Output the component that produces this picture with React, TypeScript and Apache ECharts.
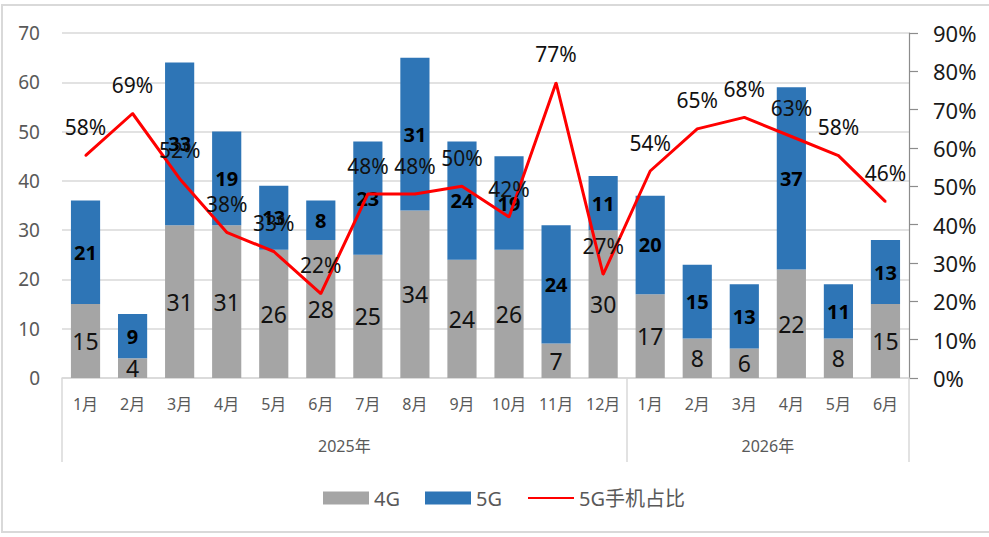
import React, { useEffect, useRef } from "react";
import * as echarts from "echarts";

const months = ["1月", "2月", "3月", "4月", "5月", "6月", "7月", "8月", "9月", "10月", "11月", "12月", "1月", "2月", "3月", "4月", "5月", "6月"];
const years = ["2025年", "2026年"];
const yearCenters = [6, 15];
const yearBounds = [0, 12, 18];
const values4G = [15, 4, 31, 31, 26, 28, 25, 34, 24, 26, 7, 30, 17, 8, 6, 22, 8, 15];
const values5G = [21, 9, 33, 19, 13, 8, 23, 31, 24, 19, 24, 11, 20, 15, 13, 37, 11, 13];
const share5G = [58, 69, 52, 38, 33, 22, 48, 48, 50, 42, 77, 27, 54, 65, 68, 63, 58, 46];

const FONT = "'Noto Sans', 'Noto Sans CJK SC', sans-serif";

export default function App() {
  const ref = useRef<HTMLDivElement>(null);
  useEffect(() => {
    if (!ref.current) return;
    const chart = echarts.init(ref.current, null, { renderer: "svg" });
    chart.setOption({
      animation: false,
      textStyle: { fontFamily: FONT },
      graphic: [
        {
          type: "rect",
          shape: { x: 2, y: 5, width: 995, height: 527 },
          style: { fill: "none", stroke: "#d9d9d9", lineWidth: 2 },
          z: -1,
        },
      ],
      grid: { left: 62, right: 80, top: 33, bottom: 159 },
      legend: {
        left: 318,
        top: 483,
        itemWidth: 46,
        itemHeight: 13,
        itemGap: 25,
        textStyle: { fontSize: 20, color: "#595959", fontFamily: FONT },
        data: [
          { name: "4G", icon: "rect" },
          { name: "5G", icon: "rect" },
          { name: "5G手机占比", itemStyle: { opacity: 0 } },
        ],
      },
      xAxis: [
        {
          type: "category",
          data: months,
          axisTick: { show: false },
          axisLine: { lineStyle: { color: "#d9d9d9", width: 1.5 } },
          axisLabel: { color: "#595959", fontSize: 16, margin: 18, interval: 0, fontFamily: FONT },
        },
        {
          type: "value",
          position: "bottom",
          min: 0,
          max: 18,
          interval: 3,
          axisLine: { show: false },
          splitLine: { show: false },
          axisTick: {
            show: true,
            length: 84,
            customValues: yearBounds,
            lineStyle: { color: "#d9d9d9", width: 1.5 },
          },
          axisLabel: {
            show: true,
            customValues: yearCenters,
            margin: 60,
            color: "#595959",
            fontSize: 16,
            fontFamily: FONT,
            formatter: (v: number) => {
              const i = yearCenters.indexOf(v);
              return i >= 0 ? years[i] : "";
            },
          },
        },
      ],
      yAxis: [
        {
          type: "value",
          min: 0,
          max: 70,
          interval: 10,
          axisLine: { show: false },
          axisTick: { show: false },
          axisLabel: { color: "#595959", fontSize: 19, margin: 22, fontFamily: FONT },
          splitLine: { lineStyle: { color: "#d9d9d9", width: 1.5 } },
        },
        {
          type: "value",
          min: 0,
          max: 90,
          interval: 10,
          position: "right",
          axisLine: { show: true, lineStyle: { color: "#8c8c8c", width: 1.2 } },
          axisTick: { show: true, length: 9, lineStyle: { color: "#8c8c8c", width: 1.2 } },
          axisLabel: { color: "#1a1a1a", fontSize: 22, margin: 24, formatter: "{value}%", fontFamily: FONT },
          splitLine: { show: false },
        },
      ],
      series: [
        {
          name: "4G",
          type: "bar",
          stack: "total",
          data: values4G,
          barWidth: "62%",
          itemStyle: { color: "#a5a5a5" },
          label: { show: true, position: "inside", fontSize: 23, color: "#111", fontFamily: FONT },
        },
        {
          name: "5G",
          type: "bar",
          stack: "total",
          data: values5G,
          barWidth: "62%",
          itemStyle: { color: "#2e75b6" },
          label: { show: true, position: "inside", fontSize: 20, fontWeight: "bold", color: "#000", fontFamily: FONT },
        },
        {
          name: "5G手机占比",
          type: "line",
          yAxisIndex: 1,
          data: share5G,
          symbol: "circle",
          symbolSize: 2,
          showSymbol: true,
          lineStyle: { color: "#ff0000", width: 3 },
          itemStyle: { color: "#ff0000" },
          z: 5,
          label: {
            show: true,
            position: "top",
            distance: 17,
            fontSize: 21,
            color: "#111",
            formatter: "{c}%",
            fontFamily: FONT,
          },
        },
      ],
    });
    return () => chart.dispose();
  }, []);
  return <div ref={ref} style={{ position: "fixed", left: 0, top: 0, width: 989, height: 537, background: "#fff" }} />;
}
